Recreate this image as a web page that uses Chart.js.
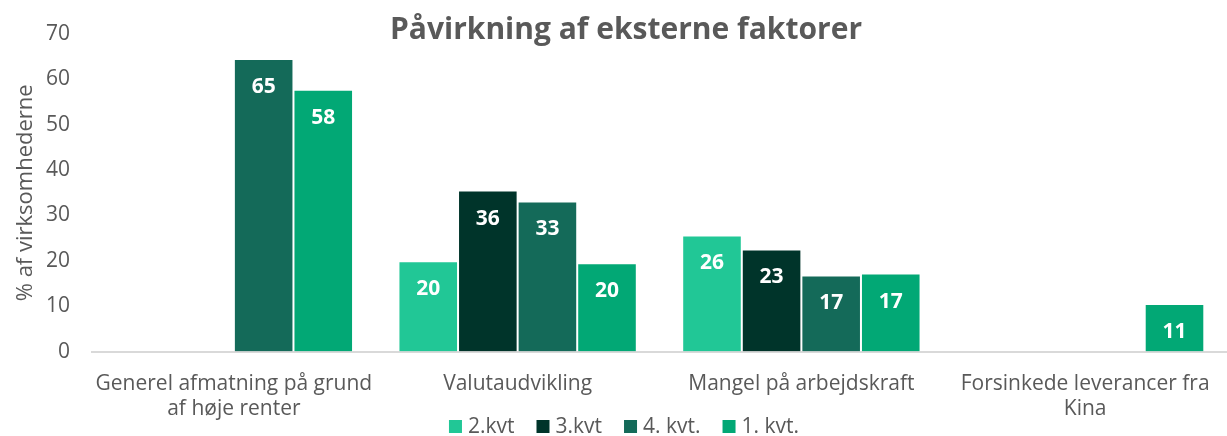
<!DOCTYPE html>
<html>
<head>
<meta charset="utf-8">
<script src="https://cdn.jsdelivr.net/npm/chart.js@4"></script>
<style>
  html, body { margin: 0; padding: 0; background: #fff; }
  #wrap { width: 1227px; height: 436px; }
</style>
</head>
<body>
<div id="wrap"><canvas id="chart" width="1227" height="436"></canvas></div>
<script>
const categories = [
    ['Generel afmatning på grund', 'af høje renter'],
    'Valutaudvikling',
    'Mangel på arbejdskraft',
    ['Forsinkede leverancer fra', 'Kina']
];
const kvt2 = [null, 19.9, 25.6, null];
const kvt3 = [null, 35.5, 22.5, null];
const kvt4 = [64.5, 33.1, 16.8, null];
const kvt1 = [57.7, 19.5, 17.2, 10.5];
const yTicks = [0, 10, 20, 30, 40, 50, 60, 70];

const FONT = '"Open Sans"';
const GREY = '#595959';

function makeSet(label, data, color) {
    return {
        label: label,
        data: data,
        backgroundColor: color,
        borderColor: 'rgba(255,255,255,0.55)',
        borderWidth: 1,
        barPercentage: 1.0,
        categoryPercentage: 0.84
    };
}

// value labels, title drawn over plot, legend at the bottom
const extras = {
    id: 'extras',
    afterDatasetsDraw(chart) {
        const ctx = chart.ctx;
        ctx.save();
        ctx.fillStyle = '#fff';
        ctx.font = 'bold 21px ' + FONT;
        ctx.textAlign = 'center';
        ctx.textBaseline = 'middle';
        chart.data.datasets.forEach((ds, i) => {
            chart.getDatasetMeta(i).data.forEach((bar, j) => {
                const v = ds.data[j];
                if (v == null) return;
                ctx.fillText(Math.round(v), bar.x, bar.y + 28);
            });
        });
        ctx.font = 'bold 30px ' + FONT;
        ctx.fillStyle = GREY;
        ctx.fillText('Påvirkning af eksterne faktorer', 626, 30);

        // legend
        ctx.font = '21px ' + FONT;
        ctx.textAlign = 'left';
        const items = chart.data.datasets.map(ds => ({
            label: ds.label, color: ds.backgroundColor, w: 19 + ctx.measureText(ds.label).width
        }));
        const gap = 22;
        const total = items.reduce((s, it) => s + it.w, 0) + gap * (items.length - 1);
        let x = 624 - total / 2;
        const y = 426;
        items.forEach(it => {
            ctx.fillStyle = it.color;
            ctx.fillRect(x, y - 6, 13, 13);
            ctx.fillStyle = GREY;
            ctx.fillText(it.label, x + 19, y + 1);
            x += it.w + gap;
        });
        ctx.restore();
    }
};

new Chart(document.getElementById('chart'), {
    type: 'bar',
    data: {
        labels: categories,
        datasets: [
            makeSet('2.kvt', kvt2, '#21C796'),
            makeSet('3.kvt', kvt3, '#00342A'),
            makeSet('4. kvt.', kvt4, '#146A59'),
            makeSet('1. kvt.', kvt1, '#02A875')
        ]
    },
    options: {
        responsive: false,
        animation: false,
        layout: { padding: { top: 34, right: 0, left: 15, bottom: 2 } },
        plugins: {
            legend: { display: false },
            tooltip: { enabled: false }
        },
        scales: {
            x: {
                grid: { display: false },
                border: { color: '#D9D9D9', width: 2 },
                ticks: {
                    color: GREY,
                    font: { family: FONT, size: 21 },
                    maxRotation: 0,
                    padding: 12
                }
            },
            y: {
                min: 0,
                max: 70,
                afterBuildTicks: axis => { axis.ticks = yTicks.map(v => ({ value: v })); },
                afterFit: axis => { axis.width = 77; },
                grid: { display: false },
                border: { display: false },
                ticks: {
                    color: GREY,
                    font: { family: FONT, size: 21 },
                    padding: 14
                },
                title: {
                    display: true,
                    text: '% af virksomhederne',
                    color: GREY,
                    font: { family: FONT, size: 22, lineHeight: 1.0 },
                    padding: 0
                }
            }
        }
    },
    plugins: [extras]
});
</script>
</body>
</html>
